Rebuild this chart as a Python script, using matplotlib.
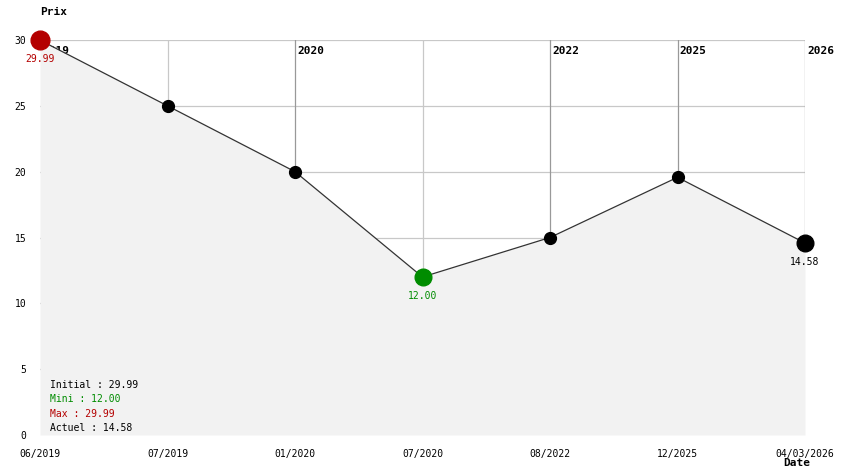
import matplotlib
matplotlib.use("Agg")
import matplotlib.pyplot as plt

dates = ["06/2019", "07/2019", "01/2020", "07/2020", "08/2022", "12/2025", "04/03/2026"]
prices = [29.99, 25.0, 20.0, 12.0, 15.0, 19.57, 14.58]
y_ticks = [0, 5, 10, 15, 20, 25, 30]

RED = "#b40000"
GREEN = "#008c00"
MONO = "DejaVu Sans Mono"

fig = plt.figure(figsize=(8.44, 4.74), dpi=100)
ax = fig.add_axes([40 / 844, 39 / 474, 765 / 844, 395 / 474])
x = list(range(len(prices)))
ax.set_xlim(0, len(prices) - 1)
ax.set_ylim(0, 30)
for s in ax.spines.values():
    s.set_visible(False)

# grid: horizontal light, vertical darker at year changes
years = [d[-4:] for d in dates]
for v in y_ticks[1:]:
    ax.axhline(v, color="#c8c8c8", lw=0.9, zorder=0)
for i in x:
    new_year = i == 0 or years[i] != years[i - 1]
    if i > 0:
        ax.axvline(i, color="#999999" if new_year else "#c8c8c8", lw=0.9, zorder=0)
    if new_year:
        ax.annotate(years[i], (i, 29.2), xytext=(1.5, 0), textcoords="offset points",
                    fontsize=8, fontweight="bold", family=MONO,
                    va="center", ha="left", zorder=1)

ax.fill_between(x, prices, 0, color="#f2f2f2", lw=0, zorder=2)
ax.plot(x, prices, color="#333333", lw=0.9, zorder=3)

i_min = prices.index(min(prices))
i_max = prices.index(max(prices))
last = len(prices) - 1
for i, p in enumerate(prices):
    if i == i_max:
        c, ms = RED, 13.5
    elif i == i_min:
        c, ms = GREEN, 12
    elif i == last:
        c, ms = "black", 12
    else:
        c, ms = "black", 8.5
    ax.plot(i, p, "o", color=c, ms=ms, mec=c, zorder=4, clip_on=False)
    if ms > 10:
        ax.text(i, p - 1.45, f"{p:.2f}", color=c, fontsize=7, family=MONO,
                ha="center", va="center", zorder=5)

ax.set_xticks(x)
ax.set_xticklabels(dates, family=MONO, fontsize=7)
ax.set_yticks(y_ticks)
ax.set_yticklabels([str(v) for v in y_ticks], family=MONO, fontsize=7)
ax.tick_params(length=0, pad=10)

fig.text(40 / 844, 1 - 12 / 474, "Prix", family=MONO, fontsize=8,
         fontweight="bold", va="center")
fig.text(797 / 844, 1 - 463 / 474, "Date", family=MONO, fontsize=8,
         fontweight="bold", va="center", ha="center")

stats = [(f"Initial : {prices[0]:.2f}", "black"),
         (f"Mini : {min(prices):.2f}", GREEN),
         (f"Max : {max(prices):.2f}", RED),
         (f"Actuel : {prices[-1]:.2f}", "black")]
for k, (t, c) in enumerate(stats):
    fig.text(50 / 844, 1 - (385 + 14.3 * k) / 474, t, color=c, family=MONO,
             fontsize=7, va="center")

fig.savefig("out.png", dpi=100)
